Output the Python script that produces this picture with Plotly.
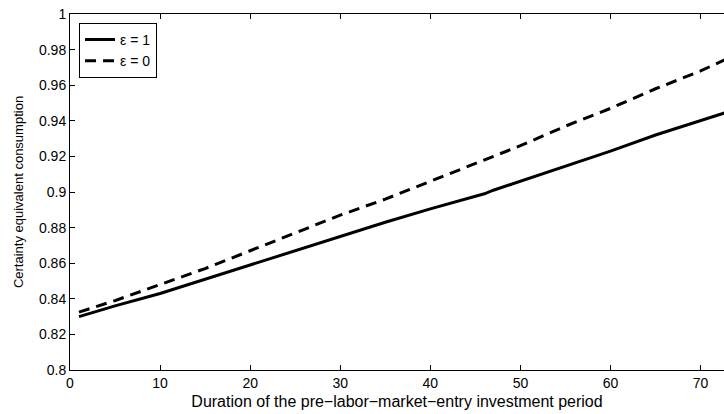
import plotly.graph_objects as go

x_vals = [1, 5, 10, 15, 20, 25, 30, 35, 40, 45, 46, 47, 50, 55, 60, 65, 70, 73]
eps1 = [0.830, 0.836, 0.843, 0.851, 0.859, 0.867, 0.875, 0.883, 0.8905, 0.8975, 0.899, 0.901, 0.906, 0.9145, 0.923, 0.932, 0.940, 0.945]
eps0 = [0.8325, 0.839, 0.848, 0.857, 0.867, 0.877, 0.887, 0.896, 0.906, 0.916, 0.918, 0.920, 0.926, 0.937, 0.947, 0.958, 0.968, 0.975]

x_ticks = [0, 10, 20, 30, 40, 50, 60, 70]
y_ticks = [0.8, 0.82, 0.84, 0.86, 0.88, 0.9, 0.92, 0.94, 0.96, 0.98, 1]
y_labels = ["0.8", "0.82", "0.84", "0.86", "0.88", "0.9", "0.92", "0.94", "0.96", "0.98", "1"]

font = "Liberation Sans, Arial, sans-serif"

fig = go.Figure()
fig.add_trace(go.Scatter(x=x_vals, y=eps1, mode="lines", name="ε = 1",
                         line=dict(color="black", width=3, dash="solid")))
fig.add_trace(go.Scatter(x=x_vals, y=eps0, mode="lines", name="ε = 0",
                         line=dict(color="black", width=3, dash="11px,7px")))

fig.update_layout(
    width=724, height=414,
    margin=dict(l=70, r=0, t=14, b=44),
    paper_bgcolor="white", plot_bgcolor="white",
    font=dict(family=font, size=14, color="black"),
    showlegend=True,
    legend=dict(x=0.0138, y=0.975, xanchor="left", yanchor="top",
                bordercolor="black", borderwidth=1, bgcolor="white",
                font=dict(size=14), tracegroupgap=0, itemwidth=30),
)
fig.update_xaxes(range=[0, 72.6], tickvals=x_ticks, ticks="inside", ticklen=5,
                 tickcolor="black", showline=True, linecolor="black", linewidth=1,
                 mirror="ticks", showgrid=False, zeroline=False,
                 tickfont=dict(size=14),
                 title=dict(text="Duration of the pre\u2212labor\u2212market\u2212entry investment period",
                            font=dict(size=16), standoff=6))
fig.update_yaxes(range=[0.8, 1], tickvals=y_ticks, ticktext=y_labels, ticks="inside", ticklen=5,
                 tickcolor="black", showline=True, linecolor="black", linewidth=1,
                 showgrid=False, zeroline=False,
                 tickfont=dict(size=14),
                 title=dict(text="Certainty equivalent consumption", font=dict(size=13), standoff=12))

fig.write_html("out.html")
